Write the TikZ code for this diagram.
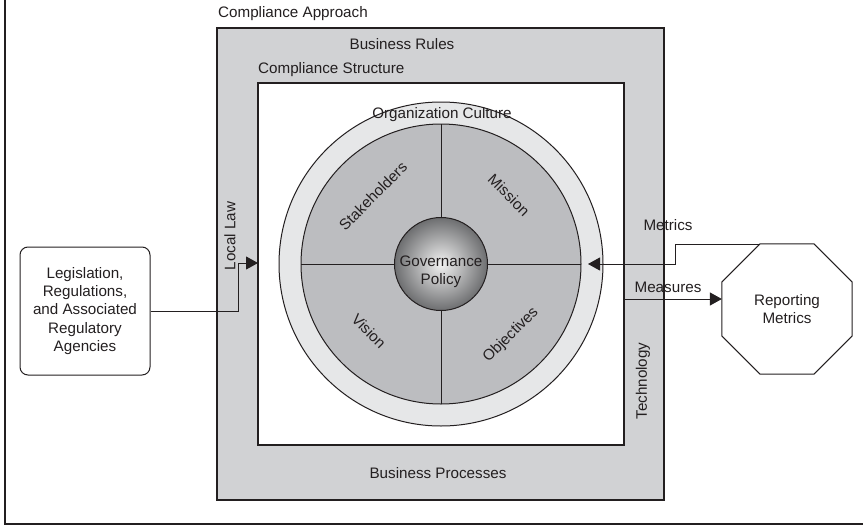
\documentclass[tikz,border=0pt]{standalone}
\usepackage{fontspec}
\setmainfont{Liberation Sans}
\usetikzlibrary{arrows.meta,shapes.geometric}
\definecolor{ink}{HTML}{231F20}
\definecolor{boxgray}{HTML}{D1D2D4}
\definecolor{ringgray}{HTML}{E6E7E8}
\definecolor{quadgray}{HTML}{BCBDC0}
\definecolor{ballin}{HTML}{F2F2F2}
\definecolor{ballout}{HTML}{6D6E70}
\begin{document}
\begin{tikzpicture}[x=1pt,y=-1pt,
  lbl/.style={font=\fontsize{15.2}{18.4}\selectfont, text=ink, inner sep=0pt},
  ln/.style={draw=ink, line width=1pt},
  arr/.style={ln,-{Triangle[length=12pt,width=13pt]}},
  frame/.style={draw=ink, line width=1.3pt, inner sep=0pt, outer sep=0pt, anchor=north west}]
\useasboundingbox (0,0) rectangle (863,525);
\draw[ink, line width=1.3pt] (5,0) -- (5,524) -- (863,524);
\node[frame, fill=boxgray, minimum width=447pt, minimum height=472pt] (approach) at (217,28) {};
\node[frame, fill=white, minimum width=366pt, minimum height=362pt] (structure) at (258,83) {};
\node[circle, draw=ink, line width=1pt, fill=ringgray, minimum size=324pt, inner sep=0pt, outer sep=0pt] (ring) at (441,264) {};
\node[circle, draw=ink, line width=1pt, fill=quadgray, minimum size=280pt, inner sep=0pt, outer sep=0pt] (quad) at (441,264) {};
\draw[ln] (quad.west) -- (quad.east);
\draw[ln] (quad.north) -- (quad.south);
\node[circle, draw=ink, line width=1pt, shading=radial, inner color=ballin, outer color=ballout, minimum size=93pt, inner sep=0pt, outer sep=0pt] (gov) at (441,264) {};
\node[lbl, align=center] (govtext) at (441,272) {Governance\\Policy};
\node[lbl, rotate=45] (stake) at (373,196) {Stakeholders};
\node[lbl, rotate=-45] (mission) at (509,195) {Mission};
\node[lbl, rotate=-45] (vision) at (369,331) {Vision};
\node[lbl, rotate=45] (obj) at (511,335) {Objectives};
\node[lbl, anchor=west] (ca) at (218,14) {Compliance Approach};
\node[lbl] (br) at (402,44) {Business Rules};
\node[lbl, anchor=west] (cs) at (258,70) {Compliance Structure};
\node[lbl] (bp) at (438,473) {Business Processes};
\node[lbl] (oc) at (442,115) {Organization Culture};
\node[lbl, rotate=90] (ll) at (230,236) {Local Law};
\node[lbl, rotate=90] (tech) at (643,381) {Technology};
\node[lbl] (metrics) at (668,225) {Metrics};
\node[lbl] (measures) at (668,287) {Measures};
\node[draw=ink, line width=1pt, rounded corners=8pt, minimum width=130pt, minimum height=128pt, align=center, lbl] (leg) at (85,311) {Legislation,\\Regulations,\\and Associated\\Regulatory\\Agencies};
\node[regular polygon, regular polygon sides=8, draw=ink, line width=1pt, minimum size=141pt, inner sep=0pt, outer sep=0pt, align=center, lbl] (oct) at (787,309) {Reporting\\Metrics};
\coordinate (llk) at (238,263);
\draw[arr] (leg.east) -| (llk) -- (llk -| structure.west);
\coordinate (ms) at (760,244);
\coordinate (mk) at (675,264);
\coordinate (mtip) at (588,264);
\draw[arr] (ms) -| (mk) -- (mtip);
\coordinate (mes) at (623,299);
\draw[arr] (mes) -- (mes -| oct.west);
\end{tikzpicture}
\end{document}
